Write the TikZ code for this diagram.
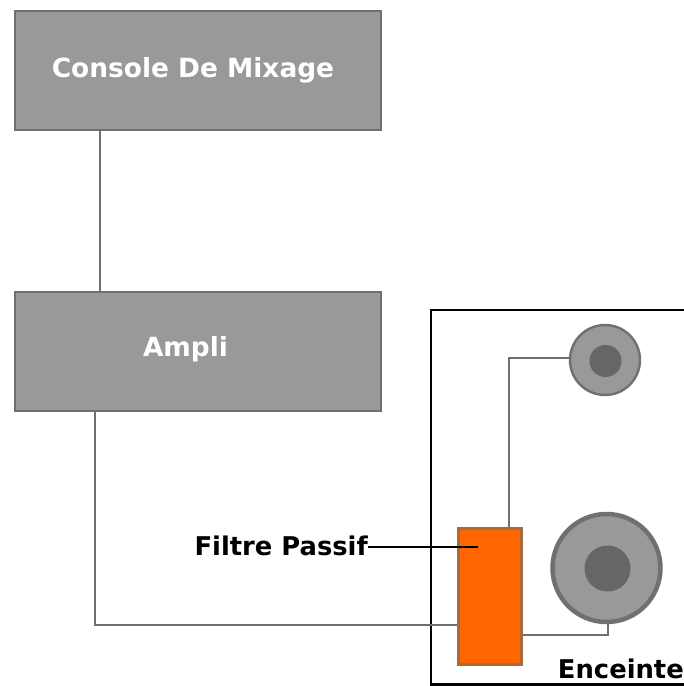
\documentclass[tikz,border=0pt]{standalone}
\usepackage{fontspec}
\setmainfont{DejaVu Sans}
\definecolor{grey4}{HTML}{666666}
\definecolor{grey5}{HTML}{707070}
\definecolor{grey6}{HTML}{999999}
\definecolor{filt}{HTML}{FF6600}
\definecolor{filtb}{HTML}{A86A40}
\tikzset{
 x=1pt,y=-1pt,
 unit/.style={draw=grey5,fill=grey6,line width=2pt,inner sep=0pt,minimum width=366pt,minimum height=119pt},
 unitlab/.style={text=white,inner sep=0pt,font=\fontsize{26.4}{30}\bfseries\selectfont},
 wire/.style={draw=grey5,line width=2.2pt},
 lead/.style={draw=black,line width=2.2pt},
 cone/.style={circle,draw=grey5,fill=grey6,inner sep=0pt},
 dome/.style={circle,fill=grey4,inner sep=0pt},
 lab/.style={text=black,inner sep=0pt,font=\fontsize{25.8}{30}\bfseries\selectfont}
}
\begin{document}
\begin{tikzpicture}
\useasboundingbox (0,0) rectangle (684,686);
\fill[white] (0,0) rectangle (684,686);
\coordinate (encTL) at (431,310);
\coordinate (encTR) at (684,310);
\coordinate (encBL) at (431,684.5);
\coordinate (encBR) at (684,684.5);
\draw[lead] (encTR) -- (encTL) -- (encBL) -- (encBR);
\node[unit] (console) at (197.5,70) {};
\node[unit] (ampli) at (197.5,351) {};
\node[unitlab] (consolelab) at (193,70) {Console De Mixage};
\node[unitlab] (amplilab) at (185.5,349) {Ampli};
\node[draw=filtb,fill=filt,line width=2.2pt,inner sep=0pt,minimum width=63pt,minimum height=136pt] (filtre) at (490,596.5) {};
\node[cone,line width=2.4pt,minimum size=70pt] (tw) at (605,360) {};
\node[dome,minimum size=32pt] (twd) at (605.5,361) {};
\node[cone,line width=4.5pt,minimum size=108pt] (wf) at (606.5,568) {};
\node[dome,minimum size=46pt] (wfd) at (607.5,568.5) {};
\coordinate (a1) at (95,625);
\coordinate (b1) at (509,358);
\coordinate (c1) at (608,635);
\coordinate (leadend) at (478,547);
\coordinate (k1) at (100,130);
\coordinate (k2) at (95,411);
\draw[wire] (console.south-|k1) -- (ampli.north-|k1);
\draw[wire] (ampli.south-|k2) -- (a1) -- (a1-|filtre.west);
\draw[wire] (filtre.north-|b1) -- (b1) -- (b1-|tw.west);
\draw[wire] (c1-|filtre.east) -- (c1) -- (c1|-wf.south);
\node[lab,anchor=east] (flab) at (368,546) {Filtre Passif};
\draw[lead] (flab.east|-leadend) -- (leadend);
\node[lab,anchor=east] (elab) at (684,669) {Enceinte};
\end{tikzpicture}
\end{document}
